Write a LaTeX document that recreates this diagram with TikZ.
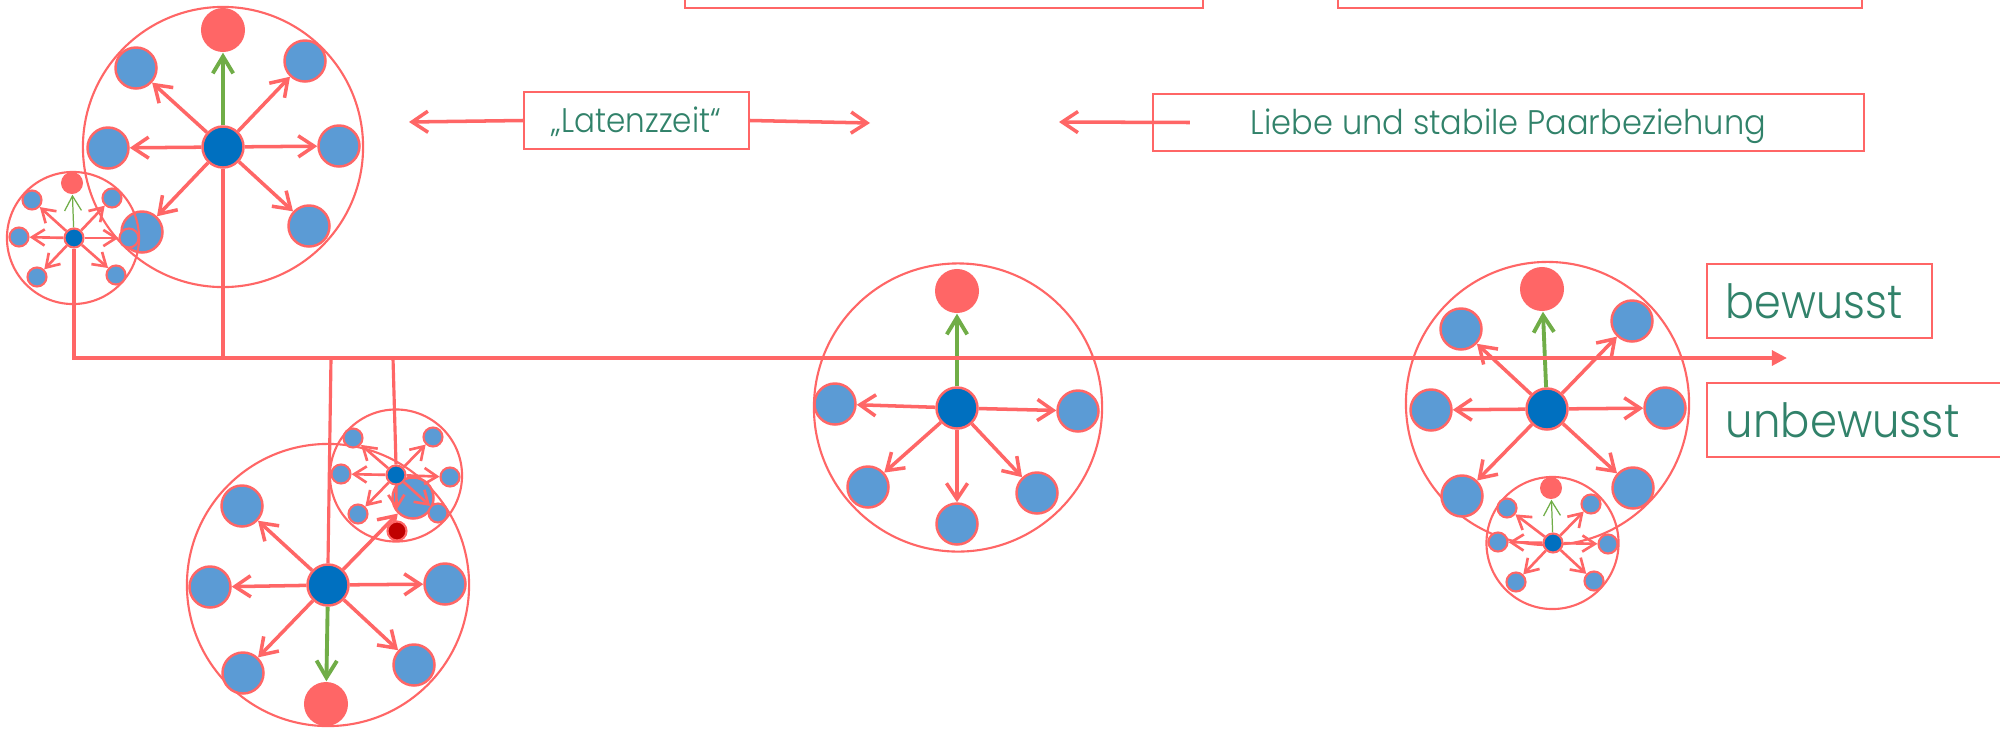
\documentclass[tikz,border=0pt]{standalone}
\usepackage{fontspec}
\setmainfont{Poppins Light}
\usetikzlibrary{arrows.meta}
\definecolor{lred}{RGB}{255,102,102}
\definecolor{sblue}{RGB}{91,155,213}
\definecolor{cblue}{RGB}{0,112,192}
\definecolor{lgreen}{RGB}{112,173,71}
\definecolor{dred}{RGB}{192,0,0}
\definecolor{txtgreen}{RGB}{49,130,106}
\tikzset{
 ring/.style={draw=lred, line width=0.6pt},
 sat/.style={circle, fill=sblue, draw=lred, line width=0.7pt, minimum size=0.41cm, inner sep=0pt},
 ctr/.style={sat, fill=cblue},
 rdot/.style={circle, fill=lred, minimum size=0.44cm, inner sep=0pt},
 ssat/.style={sat, minimum size=0.19cm, line width=0.6pt},
 sctr/.style={ssat, fill=cblue},
 srdot/.style={rdot, minimum size=0.22cm},
 ddot/.style={circle, fill=dred, draw=lred, line width=0.6pt, minimum size=0.19cm, inner sep=0pt},
 arr/.style={draw=lred, line width=1pt, -{Straight Barb[length=4.5pt,width=6pt]}},
 sarr/.style={draw=lred, line width=0.75pt, -{Straight Barb[length=3.6pt,width=4.6pt]}},
 garr/.style={draw=lgreen, line width=1.1pt, -{Straight Barb[length=4.8pt,width=5.8pt]}},
 sgarr/.style={draw=lgreen, line width=0.35pt, -{Straight Barb[length=4.2pt,width=4.8pt]}},
 tline/.style={draw=lred, line width=1.05pt},
 box/.style={draw=lred, line width=0.6pt, inner sep=0pt, text=txtgreen, text depth=0pt},
 smalltxt/.style={font=\fontsize{9.7pt}{12pt}\selectfont, text height=0.24cm},
 bigtxt/.style={font=\fontsize{13.4pt}{16pt}\selectfont, text height=0.35cm},
}
\begin{document}
\begin{tikzpicture}[x=0.01cm, y=-0.01cm]
\useasboundingbox (0,0) rectangle (2000,730);
\fill[white] (0,0) rectangle (2000,730);

% ---- cluster A (top left, large)
\draw[ring] (223,147) circle[radius=1.4cm];
\node[ctr] (ac) at (223,147) {};
\node[rdot] (ar) at (223,30) {};
\node[sat] (a1) at (136,68) {};
\node[sat] (a2) at (305,61) {};
\node[sat] (a3) at (108,148) {};
\node[sat] (a4) at (339,146) {};
\node[sat] (a5) at (142,232) {};
\node[sat] (a6) at (309,226) {};
\foreach \i in {1,...,6} \draw[arr] (ac) -- (a\i);
\draw[garr] (ac) -- (ar);

% ---- cluster A' (top left, small)
\draw[ring] (73,238) circle[radius=0.66cm];
\node[sctr] (apc) at (74,238) {};
\node[srdot] (apr) at (72,183) {};
\node[ssat] (ap1) at (32,200) {};
\node[ssat] (ap2) at (112,198) {};
\node[ssat] (ap3) at (19,237) {};
\node[ssat] (ap4) at (129,238) {};
\node[ssat] (ap5) at (37,277) {};
\node[ssat] (ap6) at (116,275) {};
\foreach \i in {1,...,6} \draw[sarr] (apc) -- (ap\i);
\draw[sgarr] (apc) -- (apr);

% ---- cluster B (bottom left, large)
\draw[ring] (328,585) circle[radius=1.41cm];
\node[ctr] (bc) at (328,585) {};
\node[rdot] (br) at (326,704) {};
\node[sat] (b1) at (242,506) {};
\node[sat] (b2) at (210,587) {};
\node[sat] (b3) at (445,584) {};
\node[sat] (b4) at (243,673) {};
\node[sat] (b5) at (414,665) {};
\node[sat] (b6) at (413,498) {};
\foreach \i in {1,...,6} \draw[arr] (bc) -- (b\i);
\draw[garr] (bc) -- (br);

% ---- cluster B' (bottom left, small)
\draw[ring] (396,475.5) circle[radius=0.66cm];
\node[sctr] (bpc) at (396,475) {};
\node[ddot] (bpr) at (397,531) {};
\node[ssat] (bp1) at (353,438) {};
\node[ssat] (bp2) at (433,437) {};
\node[ssat] (bp3) at (341,474) {};
\node[ssat] (bp4) at (450,477) {};
\node[ssat] (bp5) at (358,514) {};
\node[ssat] (bp6) at (438,513) {};
\foreach \i in {1,...,6} \draw[sarr] (bpc) -- (bp\i);
\draw[sarr, shorten >=3pt] (bpc) -- (bpr);

% ---- cluster C (middle)
\draw[ring] (958,407.5) circle[radius=1.44cm];
\node[ctr] (cc) at (957,408) {};
\node[rdot] (cr) at (957,291) {};
\node[sat] (c1) at (835,404) {};
\node[sat] (c2) at (1078,411) {};
\node[sat] (c3) at (868,487) {};
\node[sat] (c4) at (957,524) {};
\node[sat] (c5) at (1037,493) {};
\foreach \i in {1,...,5} \draw[arr] (cc) -- (c\i);
\draw[garr] (cc) -- (cr);

% ---- cluster D (right, large)
\draw[ring] (1547.5,403.5) circle[radius=1.415cm];
\node[ctr] (dc) at (1547,409) {};
\node[rdot] (dr) at (1542,289) {};
\node[sat] (d1) at (1461,329) {};
\node[sat] (d2) at (1632,321) {};
\node[sat] (d3) at (1431,410) {};
\node[sat] (d4) at (1665,408) {};
\node[sat] (d5) at (1462,496) {};
\node[sat] (d6) at (1633,488) {};
\foreach \i in {1,...,6} \draw[arr] (dc) -- (d\i);
\draw[garr] (dc) -- (dr);

% ---- cluster D' (right, small)
\draw[ring] (1552.5,543) circle[radius=0.66cm];
\node[sctr] (dpc) at (1553,543) {};
\node[srdot] (dpr) at (1551,488) {};
\node[ssat] (dp1) at (1507,508) {};
\node[ssat] (dp2) at (1591,504) {};
\node[ssat] (dp3) at (1498,542) {};
\node[ssat] (dp4) at (1608,544) {};
\node[ssat] (dp5) at (1516,582) {};
\node[ssat] (dp6) at (1594,581) {};
\foreach \i in {1,...,6} \draw[sarr] (dpc) -- (dp\i);
\draw[sgarr] (dpc) -- (dpr);

% ---- time line and drops
\coordinate (tlend) at (1787,358);
\coordinate (tB) at (331,358);
\coordinate (tBp) at (393,358);
\draw[tline, -{Triangle[length=4.3pt,width=4.2pt]}] (apc.south) |- (tlend);
\draw[tline] (ac.south) -- (ac.south |- tlend);
\draw[tline, line width=0.9pt] (tB) -- (bc.north);
\draw[tline, line width=0.9pt] (tBp) -- (bpc.north);

% ---- boxes
\node[box, minimum width=5.18cm, minimum height=0.58cm] (top1) at (944,-21) {};
\node[box, minimum width=5.24cm, minimum height=0.58cm] (top2) at (1600,-21) {};
\node[box, smalltxt, minimum width=2.25cm, minimum height=0.57cm] (lat) at (636.5,120.5) {\scalebox{0.91}[1]{„Latenzzeit“}};
\node[box, smalltxt, minimum width=7.11cm, minimum height=0.57cm] (lieb) at (1508.5,122.5) {\scalebox{0.94}[1]{Liebe und stabile Paarbeziehung}};
\coordinate (latL) at (409,122);
\coordinate (latR) at (870,123);
\coordinate (liebL) at (1059,122);
\draw[arr] (lat.west) -- (latL);
\draw[arr] (lat.east) -- (latR);
\draw[arr] ([xshift=0.38cm]lieb.west) -- (liebL);

\node[box, bigtxt, minimum width=2.25cm, minimum height=0.74cm, text width=1.87cm, inner xsep=0.19cm, align=left] (bew) at (1819.5,301) {\scalebox{0.91}[1]{bewusst}};
\node[box, bigtxt, minimum width=3.2cm, minimum height=0.74cm, text width=2.82cm, inner xsep=0.19cm, align=left] (unbew) at (1867,420) {\scalebox{0.92}[1]{unbewusst}};
\end{tikzpicture}
\end{document}
